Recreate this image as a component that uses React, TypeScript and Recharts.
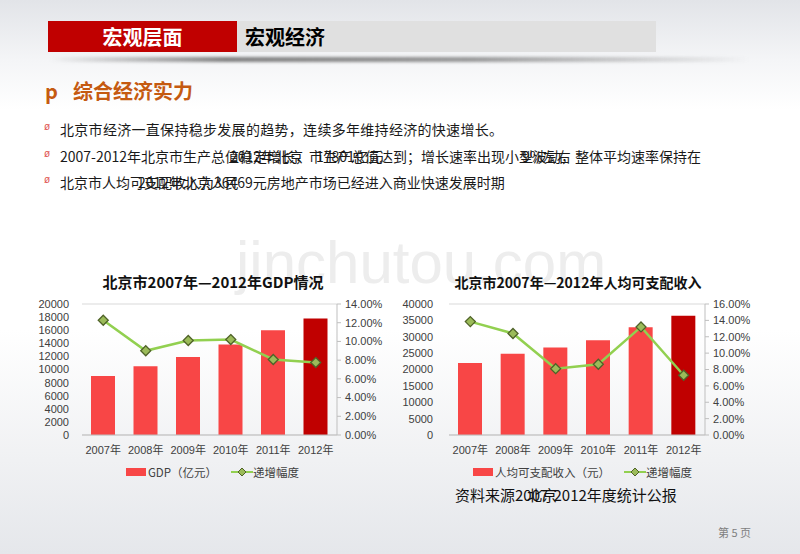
import React from 'react';
import { ComposedChart, Bar, Line, XAxis, YAxis, CartesianGrid, Legend, Cell } from 'recharts';

const years = ['2007年', '2008年', '2009年', '2010年', '2011年', '2012年'];
const gdpValues = [9000, 10500, 11900, 13800, 16000, 17800];
const gdpGrowth = [0.1226, 0.09, 0.101, 0.102, 0.0807, 0.0774];
const incomeValues = [22000, 24800, 26700, 28900, 32900, 36400];
const incomeGrowth = [0.1385, 0.124, 0.081, 0.0864, 0.132, 0.073];
const gdpLeftTicks = [0, 2000, 4000, 6000, 8000, 10000, 12000, 14000, 16000, 18000, 20000];
const gdpRightTicks = [0, 0.02, 0.04, 0.06, 0.08, 0.1, 0.12, 0.14];
const incomeLeftTicks = [0, 5000, 10000, 15000, 20000, 25000, 30000, 35000, 40000];
const incomeRightTicks = [0, 0.02, 0.04, 0.06, 0.08, 0.1, 0.12, 0.14, 0.16];

const gdpData = years.map((y, i) => ({ year: y, value: gdpValues[i], growth: gdpGrowth[i] }));
const incomeData = years.map((y, i) => ({ year: y, value: incomeValues[i], growth: incomeGrowth[i] }));

const BAR = '#f84646';
const BAR_LAST = '#c00000';
const LINE = '#92d050';
const FONT = "'Liberation Sans', 'Noto Sans CJK SC', sans-serif";
const CJK = "'Noto Sans CJK SC', 'Liberation Sans', sans-serif";
const TICK = { fontSize: 11, fill: '#404040', fontFamily: FONT };

const Diamond = (props: any) => {
  const { cx, cy, index } = props;
  if (cx == null || cy == null) return <g key={index} />;
  const r = 5;
  return (
    <path
      key={index}
      d={`M${cx},${cy - r}L${cx + r},${cy}L${cx},${cy + r}L${cx - r},${cy}Z`}
      fill="#9bbb59"
      stroke="#4f6228"
      strokeWidth={1.3}
    />
  );
};

const makeLegend = (barName: string) => () => (
  <div style={{ display: 'flex', justifyContent: 'center', alignItems: 'center', height: 24, fontSize: 11.5, color: '#404040', fontFamily: CJK }}>
    <span style={{ display: 'inline-block', width: 20, height: 8, background: BAR, marginRight: 2 }} />
    <span>{barName}</span>
    <svg width={22} height={12} style={{ marginLeft: 14 }}>
      <line x1={0} y1={6} x2={22} y2={6} stroke={LINE} strokeWidth={2} />
      <path d="M11,2L15,6L11,10L7,6Z" fill="#9bbb59" stroke="#4f6228" strokeWidth={1} />
    </svg>
    <span>递增幅度</span>
  </div>
);

const pct = (v: number) => `${(v * 100).toFixed(2)}%`;

function DualChart(p: any) {
  return (
    <div style={{ position: 'absolute', left: p.left, top: p.top }}>
      <ComposedChart width={p.width} height={p.height} data={p.data} margin={{ top: p.marginTop, right: p.marginRight, left: 0, bottom: 4 }}>
        <CartesianGrid vertical={false} stroke="#d9d9d9" />
        <XAxis dataKey="year" tick={TICK} tickLine={false} axisLine={{ stroke: '#bfbfbf' }} tickMargin={5} height={25} interval={0} />
        <YAxis yAxisId="l" domain={[p.leftTicks[0], p.leftTicks[p.leftTicks.length - 1]]} ticks={p.leftTicks} interval={0} tick={TICK} width={p.leftWidth} tickLine={false} axisLine={false} tickMargin={p.leftMargin} />
        <YAxis yAxisId="r" orientation="right" domain={[0, p.rightTicks[p.rightTicks.length - 1]]} ticks={p.rightTicks} interval={0} tick={TICK} tickFormatter={pct} width={p.rightWidth} tickLine={{ stroke: '#bfbfbf' }} tickSize={4} axisLine={{ stroke: '#bfbfbf' }} tickMargin={p.rightMargin} />
        <Legend verticalAlign="bottom" content={makeLegend(p.barName)} />
        <Bar yAxisId="l" dataKey="value" barSize={24} isAnimationActive={false}>
          {p.data.map((_: any, i: number) => (
            <Cell key={i} fill={i === p.data.length - 1 ? BAR_LAST : BAR} />
          ))}
        </Bar>
        <Line yAxisId="r" dataKey="growth" stroke={LINE} strokeWidth={2.5} dot={Diamond} isAnimationActive={false} />
      </ComposedChart>
    </div>
  );
}

const bodyText = { position: 'absolute' as const, fontSize: 14, color: '#1a1a1a', whiteSpace: 'nowrap' as const };

export default function App() {
  return (
    <div style={{ position: 'absolute', left: 0, top: 0, width: 800, height: 554, overflow: 'hidden', fontFamily: CJK, background: 'linear-gradient(to bottom, #e2e4e8 0px, #f4f5f7 60px, #ffffff 110px, #ffffff 330px, #f0f1f3 460px, #e5e7eb 554px)' }}>
      {/* header */}
      <div style={{ position: 'absolute', left: 48, top: 21, width: 189, height: 31, background: '#c00000', color: '#fff', fontWeight: 700, fontSize: 20, lineHeight: '31px', textAlign: 'center' }}>宏观层面</div>
      <div style={{ position: 'absolute', left: 237, top: 21, width: 419, height: 31, background: '#e0e0e0', color: '#000', fontWeight: 700, fontSize: 20, lineHeight: '31px', paddingLeft: 8, boxSizing: 'border-box' }}>宏观经济</div>
      <div style={{ position: 'absolute', left: 50, top: 57, width: 700, height: 5, background: 'linear-gradient(to right, rgba(90,90,90,0), rgba(90,90,90,0.75) 25%, rgba(90,90,90,0.6) 60%, rgba(90,90,90,0))', filter: 'blur(1.5px)' }} />

      {/* section title */}
      <div style={{ position: 'absolute', left: 45, top: 76, fontSize: 20, fontWeight: 700, color: '#c55a11', whiteSpace: 'nowrap' }}>p<span style={{ marginLeft: 15 }}>综合经济实力</span></div>

      {/* bullets */}
      {[128, 155, 181].map((y) => (
        <div key={y} style={{ position: 'absolute', left: 44, top: y - 7, fontSize: 10, color: '#e05050', fontFamily: FONT }}>ø</div>
      ))}
      <div style={{ ...bodyText, left: 60, top: 119, letterSpacing: 0.3 }}>北京市经济一直保持稳步发展的趋势，连续多年维持经济的快速增长。</div>
      <div style={{ ...bodyText, left: 60, top: 146 }}>2007-2012年北京市生产总值稳定增长，市生产总值达到；增长速率出现小型波动，整体平均速率保持在</div>
      <div style={{ ...bodyText, left: 230, top: 146 }}>2012年北京</div>
      <div style={{ ...bodyText, left: 316, top: 146 }}>17801亿元</div>
      <div style={{ ...bodyText, left: 522, top: 146 }}>9%左右</div>
      <div style={{ ...bodyText, left: 60, top: 172 }}>北京市人均可支配收入为36469元房地产市场已经进入商业快速发展时期</div>
      <div style={{ ...bodyText, left: 138, top: 172 }}>2012年北京人民</div>

      {/* watermark */}
      <div style={{ position: 'absolute', left: 236, top: 228, fontSize: 60, color: '#ededed', fontFamily: FONT, whiteSpace: 'nowrap' }}>jinchutou.com</div>

      {/* chart titles */}
      <div style={{ position: 'absolute', left: 63, top: 271, width: 300, textAlign: 'center', fontSize: 15, fontWeight: 700, color: '#111', whiteSpace: 'nowrap' }}>北京市2007年—2012年GDP情况</div>
      <div style={{ position: 'absolute', left: 428, top: 272, width: 300, textAlign: 'center', fontSize: 14, fontWeight: 700, color: '#111', whiteSpace: 'nowrap' }}>北京市2007年—2012年人均可支配收入</div>

      <DualChart left={30} top={260} width={370} height={228} marginTop={44} marginRight={5} data={gdpData} barName="GDP（亿元）" leftTicks={gdpLeftTicks} rightTicks={gdpRightTicks} leftWidth={52} leftMargin={7} rightWidth={58} rightMargin={4} />
      <DualChart left={400} top={260} width={400} height={228} marginTop={44} marginRight={35} data={incomeData} barName="人均可支配收入（元）" leftTicks={incomeLeftTicks} rightTicks={incomeRightTicks} leftWidth={49} leftMargin={10} rightWidth={60} rightMargin={4} />

      {/* source */}
      <div style={{ position: 'absolute', left: 455, top: 484, fontSize: 15, color: '#111', whiteSpace: 'nowrap' }}>资料来源2007-2012年度统计公报</div>
      <div style={{ position: 'absolute', left: 527, top: 484, fontSize: 15, color: '#111', whiteSpace: 'nowrap' }}>北京</div>

      <div style={{ position: 'absolute', left: 718, top: 524, fontSize: 11, color: '#7f7f7f', whiteSpace: 'nowrap' }}>第 5 页</div>
    </div>
  );
}
